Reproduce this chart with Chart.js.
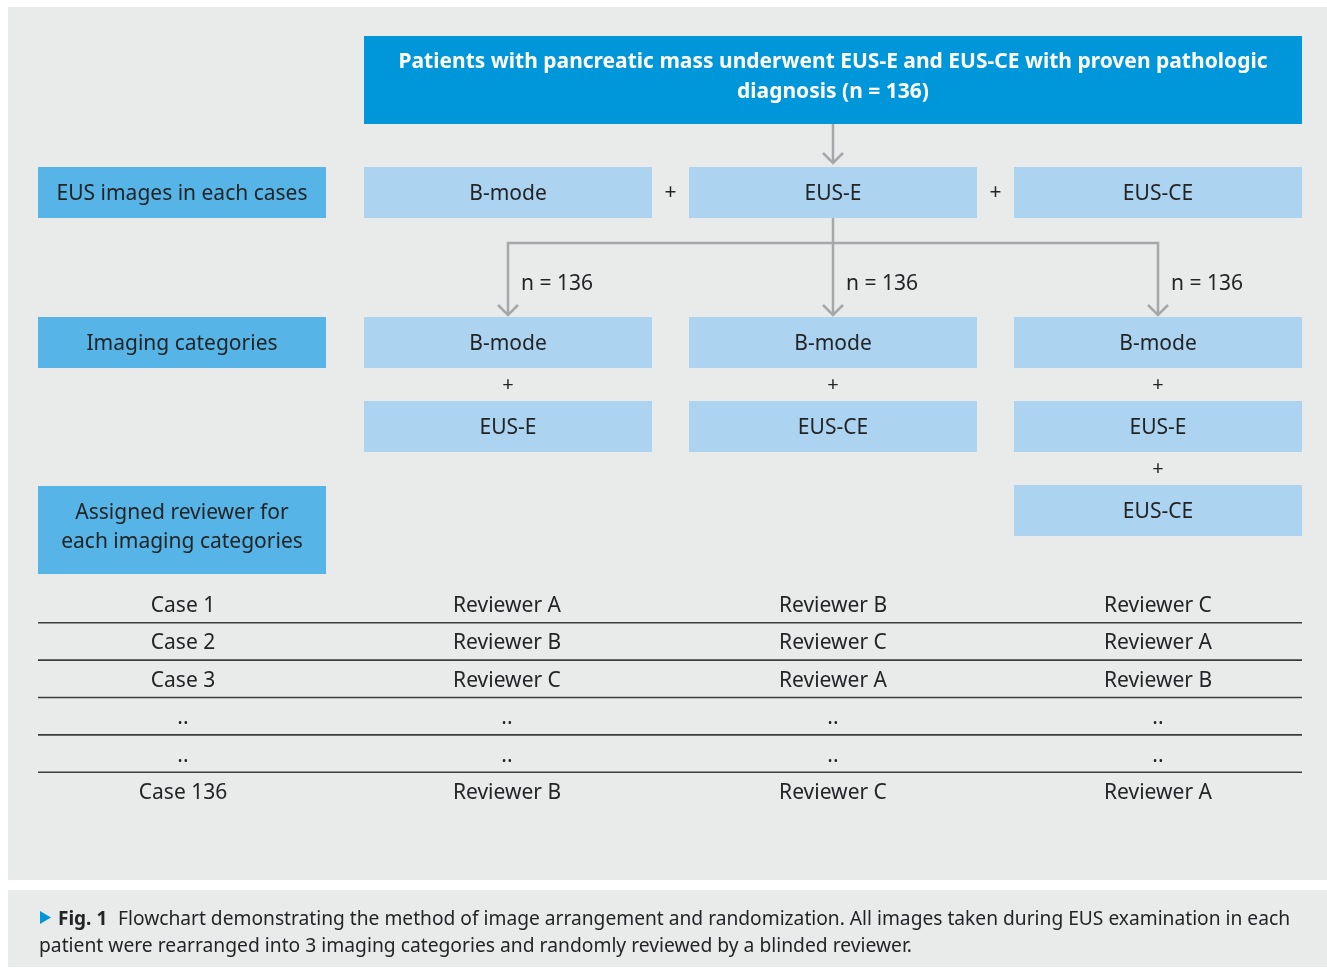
<!DOCTYPE html>
<html>
<head>
<meta charset="utf-8">
<script src="https://cdn.jsdelivr.net/npm/chart.js@4.4.1/dist/chart.umd.min.js"></script>
<style>
  html, body { margin: 0; padding: 0; background: #ffffff; }
  #wrap { width: 1327px; height: 969px; }
</style>
</head>
<body>
<div id="wrap"><canvas id="flowChart"></canvas></div>
<script>
// flowchart content
var titleLines = ['Patients with pancreatic mass underwent EUS-E and EUS-CE with proven pathologic', 'diagnosis (n = 136)'];
var rowLabels = [['EUS images in each cases'], ['Imaging categories'], ['Assigned reviewer for', 'each imaging categories']];
var imageTypes = ['B-mode', 'EUS-E', 'EUS-CE'];
var categories = [['B-mode', 'EUS-E'], ['B-mode', 'EUS-CE'], ['B-mode', 'EUS-E', 'EUS-CE']];
var categoryCounts = [136, 136, 136];
var cases = ['Case 1', 'Case 2', 'Case 3', '..', '..', 'Case 136'];
var reviewers1 = ['Reviewer A', 'Reviewer B', 'Reviewer C', '..', '..', 'Reviewer B'];
var reviewers2 = ['Reviewer B', 'Reviewer C', 'Reviewer A', '..', '..', 'Reviewer C'];
var reviewers3 = ['Reviewer C', 'Reviewer A', 'Reviewer B', '..', '..', 'Reviewer A'];
var captionLabel = 'Fig. 1';
var captionLines = ['Flowchart demonstrating the method of image arrangement and randomization. All images taken during EUS examination in each',
    'patient were rearranged into 3 imaging categories and randomly reviewed by a blinded reviewer.'];

var FONT = "'Noto Sans', 'Open Sans', sans-serif";
var darkBlue = '#0096da';
var midBlue = '#56b4e6';
var lightBlue = '#acd4f0';
var panelGray = '#e9ebeb';
var arrowGray = '#a5a7a8';
var textColor = '#222426';

var colCenters = [508, 833, 1158];
var boxHalf = 144;

var flowPlugin = {
    id: 'flow',
    beforeDraw: function (chart) {
        var ctx = chart.ctx;
        var xs = chart.scales.x, ys = chart.scales.y;
        var X = function (v) { return xs.getPixelForValue(v); };
        var Y = function (v) { return ys.getPixelForValue(v); };

        function rect(x0, y0, x1, y1, color) {
            ctx.fillStyle = color;
            ctx.fillRect(X(x0), Y(y0), X(x1) - X(x0), Y(y1) - Y(y0));
        }
        function text(str, x, y, opts) {
            opts = opts || {};
            ctx.font = (opts.bold ? 'bold ' : '') + (opts.size || 21) + 'px ' + FONT;
            ctx.fillStyle = opts.color || textColor;
            ctx.textAlign = opts.align || 'center';
            ctx.textBaseline = 'middle';
            if (opts.maxWidth) ctx.fillText(str, X(x), Y(y), opts.maxWidth);
            else ctx.fillText(str, X(x), Y(y));
        }
        function line(pts, color, w) {
            ctx.strokeStyle = color;
            ctx.lineWidth = w;
            ctx.beginPath();
            pts.forEach(function (p, i) {
                if (i === 0) ctx.moveTo(X(p[0]), Y(p[1]));
                else ctx.lineTo(X(p[0]), Y(p[1]));
            });
            ctx.stroke();
        }
        function arrowHead(x, y) {
            line([[x - 10, y - 10], [x, y], [x + 10, y - 10]], arrowGray, 2.5);
        }

        ctx.save();
        // panels
        rect(8, 7, 1327, 880, panelGray);
        rect(8, 890, 1327, 967, panelGray);

        // top box
        rect(364, 36, 1302, 124, darkBlue);
        titleLines.forEach(function (t, i) {
            text(t, 833, 62 + i * 30, { bold: true, color: '#ffffff', size: 21 });
        });

        // arrow from top box to EUS-E
        line([[833, 124], [833, 163]], arrowGray, 2.5);
        arrowHead(833, 163);

        // row labels
        rect(38, 167, 326, 218, midBlue);
        text(rowLabels[0][0], 182, 194);
        rect(38, 317, 326, 368, midBlue);
        text(rowLabels[1][0], 182, 344);
        rect(38, 486, 326, 574, midBlue);
        rowLabels[2].forEach(function (t, i) {
            text(t, 182, 513 + i * 29);
        });

        // connector lines
        line([[833, 218], [833, 315]], arrowGray, 2.5);
        line([[colCenters[0], 315], [colCenters[0], 243], [colCenters[2], 243], [colCenters[2], 315]], arrowGray, 2.5);

        // image types row
        imageTypes.forEach(function (t, i) {
            var c = colCenters[i];
            rect(c - boxHalf, 167, c + boxHalf, 218, lightBlue);
            text(t, c, 194);
            if (i < imageTypes.length - 1) text('+', (c + colCenters[i + 1]) / 2, 193, { size: 21 });
        });

        // categories
        categories.forEach(function (items, i) {
            var c = colCenters[i];
            arrowHead(c, 315);
            text('n = ' + categoryCounts[i], c + 13, 284, { align: 'left' });
            items.forEach(function (t, j) {
                var top = 317 + j * 84;
                if (j > 0) text('+', c, top - 16, { size: 20 });
                rect(c - boxHalf, top, c + boxHalf, top + 51, lightBlue);
                text(t, c, top + 27);
            });
        });

        // reviewer table
        var cols = [cases, reviewers1, reviewers2, reviewers3];
        var tableX = [183, 507, 833, 1158];
        cases.forEach(function (r, i) {
            var cy = 604 + i * 37.4;
            cols.forEach(function (col, k) {
                text(col[i], tableX[k], cy + 2);
            });
            if (i < cases.length - 1) line([[38, cy + 18.7], [1302, cy + 18.7]], '#3c3c3c', 1.6);
        });

        // caption
        ctx.fillStyle = darkBlue;
        ctx.beginPath();
        ctx.moveTo(X(40), Y(911));
        ctx.lineTo(X(51), Y(917.5));
        ctx.lineTo(X(40), Y(924));
        ctx.closePath();
        ctx.fill();
        text(captionLabel, 58, 920, { bold: true, size: 19, align: 'left' });
        text(captionLines[0], 118, 920, { size: 19.3, align: 'left', maxWidth: 1172 });
        text(captionLines[1], 39, 947, { size: 19.3, align: 'left', maxWidth: 873 });
        ctx.restore();
    }
};

var chart = new Chart(document.getElementById('flowChart').getContext('2d'), {
    type: 'scatter',
    data: { datasets: [{ data: [] }] },
    options: {
        responsive: true,
        maintainAspectRatio: false,
        animation: false,
        layout: { padding: 0 },
        plugins: { legend: { display: false }, tooltip: { enabled: false } },
        scales: {
            x: { type: 'linear', min: 0, max: 1327, display: false },
            y: { type: 'linear', min: 0, max: 969, reverse: true, display: false }
        }
    },
    plugins: [flowPlugin]
});
</script>
</body>
</html>
